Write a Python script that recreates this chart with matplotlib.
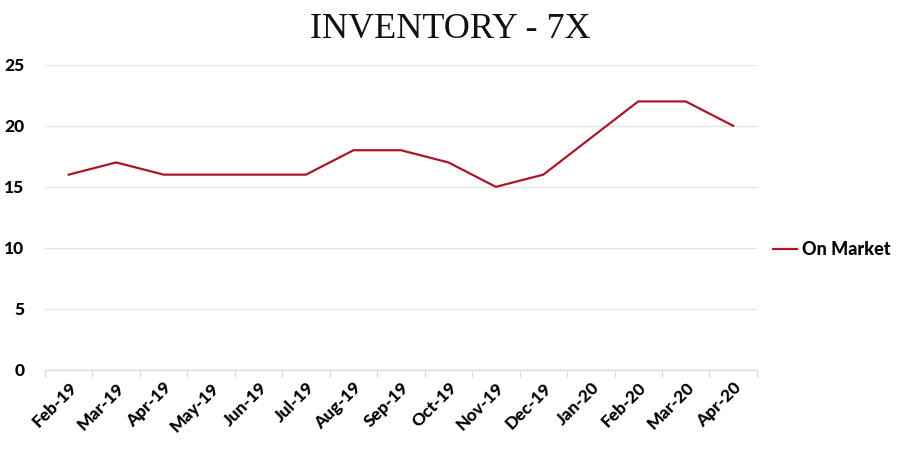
import matplotlib
matplotlib.use("Agg")
import matplotlib.pyplot as plt
import numpy as np

months = ["Feb-19", "Mar-19", "Apr-19", "May-19", "Jun-19", "Jul-19", "Aug-19", "Sep-19",
          "Oct-19", "Nov-19", "Dec-19", "Jan-20", "Feb-20", "Mar-20", "Apr-20"]
on_market = [16, 17, 16, 16, 16, 16, 18, 18, 17, 15, 16, 19, 22, 22, 20]
y_ticks = [0, 5, 10, 15, 20, 25]

FONT = "Lato"
WEIGHT = 900

fig = plt.figure(figsize=(9, 4.5), dpi=100)
ax = fig.add_axes([0.05, 0.178, 0.791, 0.678])

x = np.arange(len(months))
ax.plot(x, on_market, color="#a8172a", linewidth=1.6, label="On Market")

ax.set_xlim(-0.5, len(months) - 0.5)
ax.set_ylim(0, 25)
ax.set_yticks(y_ticks)
ax.set_xticks(x)
ax.set_xticklabels(months, rotation=45, ha="right", rotation_mode="anchor",
                   fontfamily=FONT, fontweight=WEIGHT, fontsize=12.5)
for lbl in ax.get_yticklabels():
    lbl.set_fontfamily(FONT)
    lbl.set_fontweight(WEIGHT)
    lbl.set_fontsize(12.5)

ax.yaxis.grid(True, color="#e3e3e3", linewidth=0.9)
ax.set_axisbelow(True)
for s in ["top", "right", "left"]:
    ax.spines[s].set_visible(False)
ax.spines["bottom"].set_color("#d9d9d9")
ax.spines["bottom"].set_linewidth(0.9)
ax.tick_params(axis="y", length=0, pad=15)
ax.tick_params(axis="x", length=0, pad=7)
ax.set_xticks(np.arange(-0.5, len(months), 1.0), minor=True)
ax.tick_params(axis="x", which="minor", length=5, color="#d9d9d9", width=0.9, direction="out")

fig.text(0.5, 0.935, "INVENTORY - 7X", ha="center", va="center",
         fontfamily="Liberation Serif", fontsize=26, color="#111111")

leg = ax.legend(loc="center left", bbox_to_anchor=(1.0, 0.393), frameon=False,
                handlelength=1.3, handletextpad=0.3,
                prop={"family": FONT, "weight": WEIGHT, "size": 13})

fig.savefig("out.png", dpi=100, facecolor="white")
